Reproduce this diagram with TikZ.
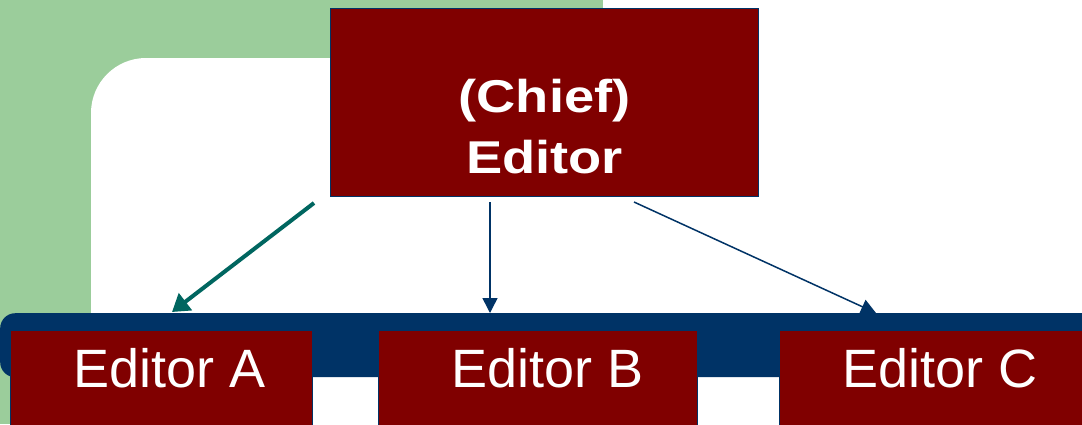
\documentclass[tikz,border=0pt]{standalone}
\usepackage{fontspec}
\setmainfont{Liberation Sans}
\usetikzlibrary{arrows.meta,calc}
\definecolor{boxred}{RGB}{128,0,0}
\definecolor{navy}{RGB}{0,51,102}
\definecolor{leaf}{RGB}{155,205,155}
\definecolor{tealc}{RGB}{0,102,96}
\pgfdeclarelayer{back}
\pgfdeclarelayer{mid}
\pgfsetlayers{back,mid,main}
\newcommand{\lifted}[2]{\raisebox{#1}[0pt][0pt]{#2}}
\begin{document}
\begin{tikzpicture}[x=1pt,y=-1pt,
  ebox/.style={rectangle, draw=navy, line width=1pt, fill=boxred, text=white, inner sep=0pt, anchor=north west},
  edfont/.style={font=\fontsize{54}{60}\selectfont},
  barbox/.style={rectangle, fill=navy, rounded corners=15pt, inner sep=0pt, anchor=north west},
  navyarr/.style={draw=navy, line width=1.5pt, -{Triangle[width=15pt,length=15pt]}},
  tealarr/.style={draw=tealc, line width=4pt, -{Triangle[width=21pt,length=17pt]}}]
\useasboundingbox (0,0) rectangle (1082,424);
% background
\begin{pgfonlayer}{back}
\fill[white] (0,0) rectangle (1082,424);
\fill[leaf] (0,0) rectangle (603,424);
\fill[white, rounded corners=55pt] (91,58) rectangle (1200,640);
\end{pgfonlayer}
% bar and boxes
\node[barbox, minimum width=1200pt, minimum height=64pt] (bar) at (0,313) {};
\node[ebox, edfont, minimum width=302pt, minimum height=110pt] (ea) at (10,330) {\lifted{-2pt}{\hspace*{16pt}Editor A}};
\node[ebox, edfont, minimum width=319pt, minimum height=110pt] (eb) at (378,330) {\lifted{-2pt}{\hspace*{19pt}Editor B}};
\node[ebox, edfont, minimum width=321pt, minimum height=110pt] (ec) at (779,330) {\lifted{-2pt}{Editor C}};
\node[ebox, minimum width=428pt, minimum height=188pt] (chief) at (330,8)
  {\lifted{-10pt}{\fontsize{46}{61}\selectfont\bfseries\begin{tabular}[t]{@{}c@{}}\scalebox{1.18}[1]{(Chief)}\\\scalebox{1.18}[1]{Editor}\end{tabular}}};
% connectors
\coordinate (xA) at (172,0);
\coordinate (xB) at (490,0);
\coordinate (xC) at (876,0);
\begin{pgfonlayer}{mid}
\draw[tealarr] ($(chief.south west)+(-16,6)$) -- ($(xA |- bar.north)+(0,-1)$);
\draw[navyarr] ($(xB |- chief.south)+(0,5)$) -- (xB |- bar.north);
\draw[navyarr] ($(chief.south west)+(304,5)$) -- (xC |- bar.north);
\end{pgfonlayer}
\end{tikzpicture}
\end{document}
